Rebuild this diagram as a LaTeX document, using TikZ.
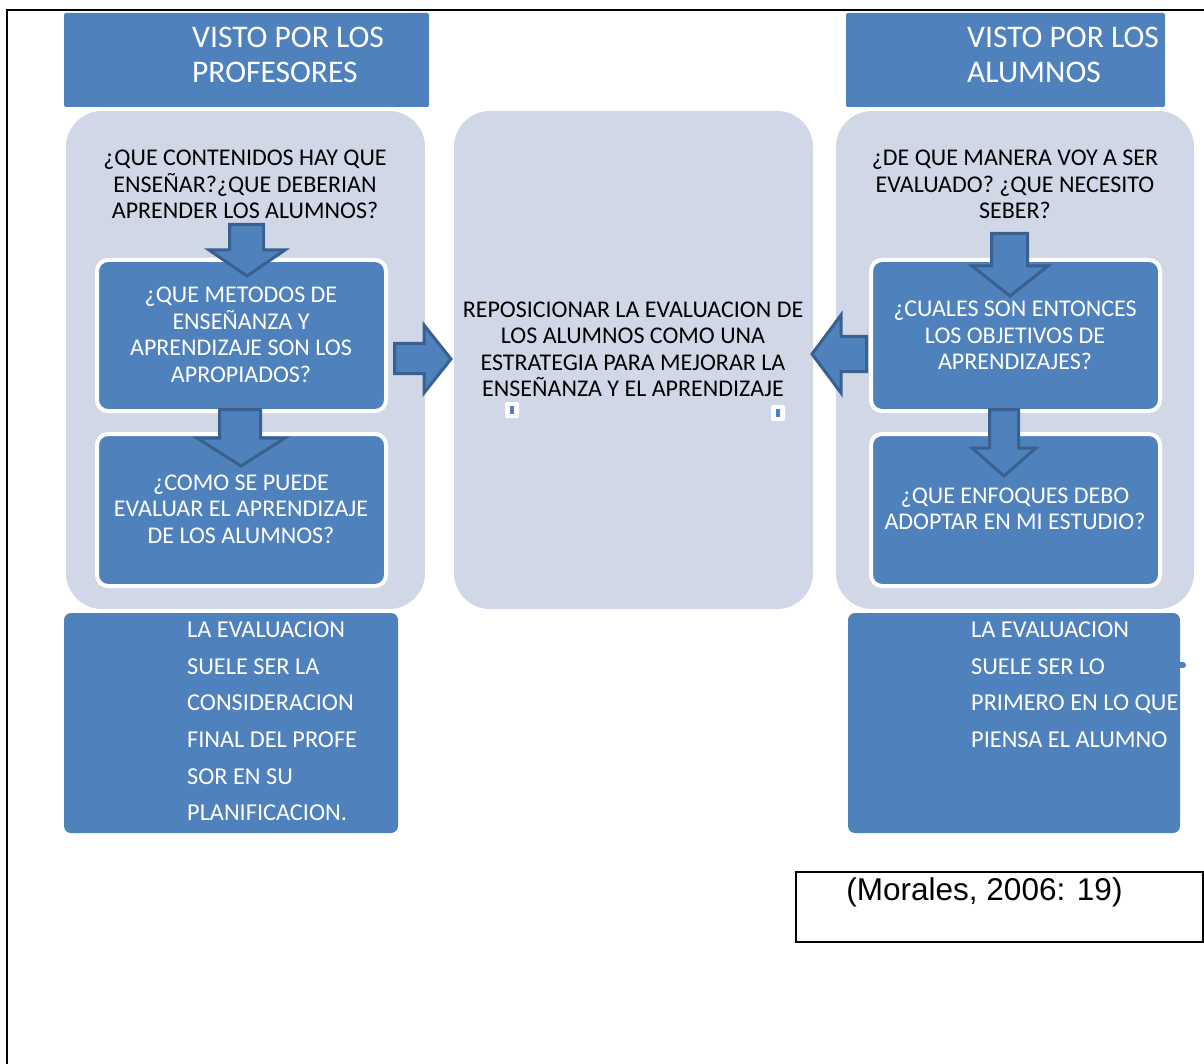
\documentclass[tikz,border=0pt]{standalone}
\usepackage{fontspec}
\setmainfont{Carlito}
\newfontfamily\arialf{Liberation Sans}
\definecolor{blu}{HTML}{4F81BD}
\definecolor{dblu}{HTML}{3A6090}
\definecolor{lite}{HTML}{D0D8E8}
\tikzset{
  panel/.style={fill=lite, draw=none, rounded corners=36pt},
  header/.style={fill=blu, draw=none, rounded corners=2pt},
  qbox/.style={fill=blu, draw=white, line width=4pt, rounded corners=11pt},
  notebox/.style={fill=blu, draw=none, rounded corners=7pt},
  blockarrow/.style={fill=blu, draw=dblu, line width=3pt, line join=miter},
  darktext/.style={text=black, align=center, inner sep=0pt, font=\fontsize{24}{26.5}\selectfont},
  lighttext/.style={text=white, align=center, inner sep=0pt, font=\fontsize{24}{26.5}\selectfont},
  headtext/.style={text=white, align=left, inner sep=0pt, anchor=north west, font=\fontsize{31.5}{34.5}\selectfont},
  notetext/.style={text=white, align=left, inner sep=0pt, anchor=north west, font=\fontsize{24.3}{36.7}\selectfont},
  handle/.style={fill=white, draw=none, rounded corners=2pt, minimum width=14pt, minimum height=16pt, inner sep=0pt}
}
\begin{document}
\begin{tikzpicture}[x=1pt,y=-1pt]
\useasboundingbox (0,0) rectangle (1204,1064);
% frame
\draw[line width=2.5pt] (7,1064) -- (7,10) -- (1204,10);
% headers
\path[header] (64,13) rectangle (429,107);
\path[header] (846,13) rectangle (1165,107);
\node[headtext] (hl) at (192,27) {VISTO POR LOS\\PROFESORES};
\node[headtext] (hr) at (967,27) {VISTO POR LOS\\ALUMNOS};
% panels
\path[panel] (66,111) rectangle (425,609);
\path[panel] (454,111) rectangle (813,609);
\path[panel] (836,111) rectangle (1194,609);
% top texts
\node[darktext] (tl) at (245,184.5) {¿QUE CONTENIDOS HAY QUE\\ENSEÑAR?¿QUE DEBERIAN\\APRENDER LOS ALUMNOS?};
\node[darktext] (tr) at (1015,184.5) {¿DE QUE MANERA VOY A SER\\EVALUADO? ¿QUE NECESITO\\SEBER?};
% question boxes
\path[qbox] (97,260) rectangle (386,411);
\path[qbox] (97,434) rectangle (386,586);
\path[qbox] (871,260) rectangle (1160,411);
\path[qbox] (871,434) rectangle (1160,586);
\node[lighttext] (l1) at (241,335) {¿QUE METODOS DE\\ENSEÑANZA Y\\APRENDIZAJE SON LOS\\APROPIADOS?};
\node[lighttext] (l2) at (241,509) {¿COMO SE PUEDE\\EVALUAR EL APRENDIZAJE\\DE LOS ALUMNOS?};
\node[lighttext] (r1) at (1015,335.5) {¿CUALES SON ENTONCES\\LOS OBJETIVOS DE\\APRENDIZAJES?};
\node[lighttext] (r2) at (1015,509) {¿QUE ENFOQUES DEBO\\ADOPTAR EN MI ESTUDIO?};
% center text
\node[darktext] (c) at (633,349.5) {REPOSICIONAR LA EVALUACION DE\\LOS ALUMNOS COMO UNA\\ESTRATEGIA PARA MEJORAR LA\\ENSEÑANZA Y EL APRENDIZAJE};
% handles
\node[handle] (h1) at (512,410) {};
\fill[blu] (510.3,406) rectangle (513.7,414);
\node[handle] (h2) at (778,413) {};
\fill[blu] (776.3,409) rectangle (779.7,417);
% block arrows (down, left panel)
\draw[blockarrow] (229.5,224.5) -- (263.5,224.5) -- (263.5,250) -- (285,250) -- (247,276) -- (209,250) -- (229.5,250) -- cycle;
\draw[blockarrow] (219.5,409.5) -- (260.5,409.5) -- (260.5,438) -- (285,438) -- (241,466) -- (197,438) -- (219.5,438) -- cycle;
% down, right panel
\draw[blockarrow] (991.5,233.5) -- (1027.5,233.5) -- (1027.5,266) -- (1048,266) -- (1010,296) -- (972,266) -- (991.5,266) -- cycle;
\draw[blockarrow] (989.5,409.5) -- (1018.5,409.5) -- (1018.5,448) -- (1036,448) -- (1004,476) -- (972,448) -- (989.5,448) -- cycle;
% horizontal arrows to center
\draw[blockarrow] (394.5,343.5) -- (424,343.5) -- (424,325) -- (451,359) -- (424,393) -- (424,373.5) -- (394.5,373.5) -- cycle;
\draw[blockarrow] (866.5,336.5) -- (841,336.5) -- (841,315) -- (812,354) -- (841,393) -- (841,371.5) -- (866.5,371.5) -- cycle;
% note boxes
\path[notebox] (64,613) rectangle (398,833);
\path[notebox] (848,613) rectangle (1180,833);
\fill[blu] (1178,662) rectangle (1183,668);
\fill[blu] (1183,665) circle (3pt);
\node[notetext] (nl) at (187,621.5) {LA EVALUACION\\SUELE SER LA\\CONSIDERACION\\FINAL DEL PROFE\\SOR EN SU\\PLANIFICACION.};
\node[notetext] (nr) at (971,621.5) {LA EVALUACION\\SUELE SER LO\\PRIMERO EN LO QUE\\PIENSA EL ALUMNO};
% citation
\draw[line width=2pt] (796,872) rectangle (1203,942);
\node[inner sep=0pt, font=\arialf\fontsize{31.5}{36}\selectfont] (cit) at (984.5,892.5) {(Morales, 2006: 19)};
\end{tikzpicture}
\end{document}
